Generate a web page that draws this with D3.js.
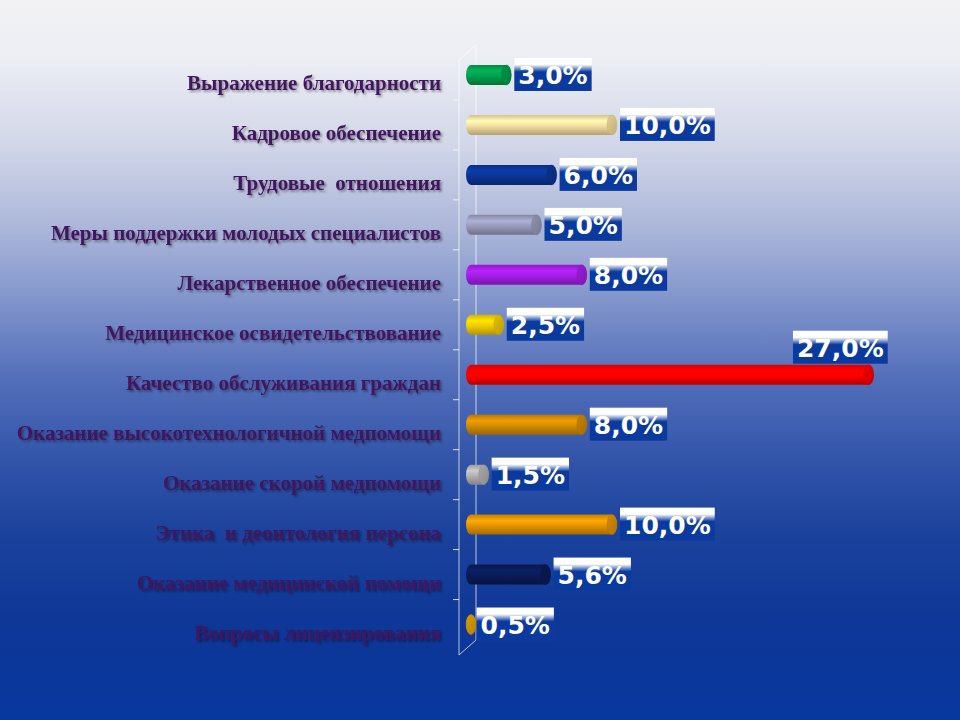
<!DOCTYPE html>
<html><head><meta charset="utf-8">
<script src="https://cdn.jsdelivr.net/npm/d3@7/dist/d3.min.js"></script>
<style>html,body{margin:0;padding:0;background:#fff}svg{display:block}</style>
</head><body>
<svg id="chart" width="960" height="720"></svg>
<script>
const categories = [
  "Выражение благодарности",
  "Кадровое обеспечение",
  "Трудовые  отношения",
  "Меры поддержки молодых специалистов",
  "Лекарственное обеспечение",
  "Медицинское освидетельствование",
  "Качество обслуживания граждан",
  "Оказание высокотехнологичной медпомощи",
  "Оказание скорой медпомощи",
  "Этика  и деонтология персона",
  "Оказание медицинской помощи",
  "Вопросы лицензирования"
];
const values = [3.0, 10.0, 6.0, 5.0, 8.0, 2.5, 27.0, 8.0, 1.5, 10.0, 5.6, 0.5];
const valueLabels = ["3,0%", "10,0%", "6,0%", "5,0%", "8,0%", "2,5%", "27,0%", "8,0%", "1,5%", "10,0%", "5,6%", "0,5%"];
const barColors = ["#00a04c", "#f6dea0", "#0a3596", "#9a9cbc", "#a41ee6", "#f4cc00", "#ff0000", "#d48c00", "#b4b4b4", "#e49400", "#0a1c58", "#e8a800"];

const svg = d3.select("#chart");
const W = 960, H = 720;
const defs = svg.append("defs");

// background gradient
const bg = defs.append("linearGradient").attr("id","bg").attr("x1",0).attr("y1",0).attr("x2",0).attr("y2",1);
[[0,"#f2f2f4"],[0.08,"#eceef4"],[0.2,"#d2d7e8"],[0.32,"#aab5d8"],[0.42,"#8094cb"],[0.52,"#5570ba"],[0.63,"#3456aa"],[0.74,"#1b429c"],[0.86,"#0e3797"],[1,"#08379e"]]
  .forEach(([o,c]) => bg.append("stop").attr("offset",o).attr("stop-color",c));
svg.append("rect").attr("width",W).attr("height",H).attr("fill","url(#bg)");

// label shadow filter
const f = defs.append("filter").attr("id","shadow").attr("x","-5%").attr("y","-30%").attr("width","110%").attr("height","160%");
f.append("feDropShadow").attr("dx",1.8).attr("dy",1.8).attr("stdDeviation",1).attr("flood-color","#000").attr("flood-opacity",0.4);

// label box gradient
const lg = defs.append("linearGradient").attr("id","lblbox").attr("x1",0).attr("y1",0).attr("x2",0).attr("y2",1);
[[0,"#ffffff"],[0.2,"#ffffff"],[0.42,"#0a3a9e"],[1,"#0a3a9e"]].forEach(([o,c]) => lg.append("stop").attr("offset",o).attr("stop-color",c));

// scales
const x = d3.scaleLinear().domain([0, 30]).range([466, 919]);
const y = d3.scaleBand().domain(categories).range([50, 649.5]).paddingInner(0.6).paddingOuter(0.3);

// axis wall lines
const axisX = 459, backX = 476, depth = 15;
const yTop = 60, yBot = 655;
const g = svg.append("g");
g.append("line").attr("x1",axisX).attr("x2",axisX).attr("y1",yTop).attr("y2",yBot).attr("stroke","#ffffff").attr("stroke-opacity",0.7).attr("stroke-width",1);
g.append("line").attr("x1",backX).attr("x2",backX).attr("y1",yTop-depth).attr("y2",yBot-depth).attr("stroke","#ffffff").attr("stroke-opacity",0.7).attr("stroke-width",1);
g.append("line").attr("x1",axisX).attr("x2",backX).attr("y1",yTop).attr("y2",yTop-depth).attr("stroke","#ffffff").attr("stroke-opacity",0.7);
g.append("line").attr("x1",axisX).attr("x2",backX).attr("y1",yBot).attr("y2",yBot-depth).attr("stroke","#ffffff").attr("stroke-opacity",0.7);
// ticks between categories
const step = y.step();
categories.forEach((c,i) => {
  if (i === 0) return;
  const ty = y(c) - (step - y.bandwidth())/2;
  g.append("line").attr("x1",axisX-6).attr("x2",axisX).attr("y1",ty).attr("y2",ty).attr("stroke","#ffffff").attr("stroke-opacity",0.8);
});

// category labels
svg.append("g").selectAll("text").data(categories).join("text")
  .attr("x", 441).attr("y", d => y(d) + y.bandwidth()/2 + 15)
  .attr("text-anchor","end")
  .attr("font-family","'Liberation Serif','Times New Roman',serif")
  .attr("font-weight","bold").attr("font-size",21)
  .attr("fill","#42145e").attr("filter","url(#shadow)")
  .attr("xml:space","preserve").style("white-space","pre")
  .text(d => d);

// bars
const bars = svg.append("g");
values.forEach((v,i) => {
  const col = d3.color(barColors[i]);
  const gid = "bar"+i;
  const gr = defs.append("linearGradient").attr("id",gid).attr("x1",0).attr("y1",0).attr("x2",0).attr("y2",1);
  gr.append("stop").attr("offset",0).attr("stop-color",col.darker(0.4));
  gr.append("stop").attr("offset",0.3).attr("stop-color",col.brighter(0.35));
  gr.append("stop").attr("offset",0.55).attr("stop-color",col);
  gr.append("stop").attr("offset",1).attr("stop-color",col.darker(0.9));
  const cap = defs.append("linearGradient").attr("id",gid+"c").attr("x1",0).attr("y1",0).attr("x2",1).attr("y2",1);
  cap.append("stop").attr("offset",0).attr("stop-color",col.darker(0.2));
  cap.append("stop").attr("offset",1).attr("stop-color",col.darker(0.7));
  const cy = y(categories[i]), h = y.bandwidth();
  const x0 = x(0), x1 = x(v);
  const r = 5;
  bars.append("rect").attr("x",x0).attr("y",cy).attr("width",Math.max(x1-x0, 2*r)).attr("height",h)
    .attr("rx",r).attr("ry",h/2).attr("fill","url(#"+gid+")");
  bars.append("ellipse").attr("cx",Math.max(x1, x0+2*r)-r).attr("cy",cy+h/2).attr("rx",r).attr("ry",h/2)
    .attr("fill","url(#"+gid+"c)").attr("stroke",col.darker(0.8)).attr("stroke-width",0.6).attr("stroke-opacity",0.6);
});

// value labels
const lab = svg.append("g");
values.forEach((v,i) => {
  const cy = y(categories[i]) + y.bandwidth()/2;
  const gg = lab.append("g");
  const rect = gg.append("rect").attr("fill","url(#lblbox)");
  const t = gg.append("text").attr("font-family","'DejaVu Sans',Verdana,sans-serif").attr("font-weight","bold")
    .attr("font-size",25).attr("fill","#ffffff").text(valueLabels[i]);
  const tw = t.node().getComputedTextLength();
  const bw = tw + 8, bh = 33;
  const xEnd = x(v);
  let bx, by;
  if (xEnd + bw > 910) { bx = xEnd + 14 - bw; by = cy - 10 - bh - 1; }
  else { bx = xEnd + 3; by = cy - 17; }
  rect.attr("x",bx).attr("y",by).attr("width",bw).attr("height",bh);
  t.attr("x",bx+4).attr("y",by+26);
});
</script>
</body></html>
